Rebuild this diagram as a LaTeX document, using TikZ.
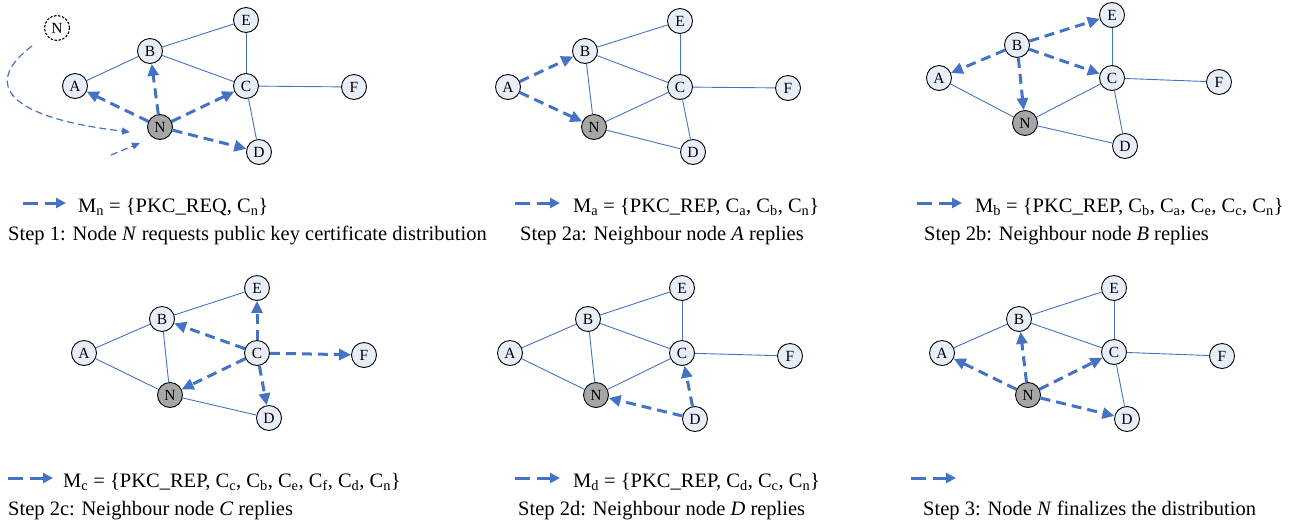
\documentclass[tikz,border=0pt]{standalone}
\usepackage{fontspec}
\setmainfont{Liberation Serif}
\usetikzlibrary{arrows.meta}
\definecolor{linkblue}{HTML}{4472C4}
\definecolor{nodefill}{HTML}{E8EEF8}
\definecolor{selfgray}{HTML}{A6A6A6}
\tikzset{
  peer/.style={circle, draw=black, line width=0.9pt, fill=nodefill, minimum size=25pt,
    inner sep=0pt, font=\fontsize{15.5}{15.5}\selectfont},
  self/.style={peer, fill=selfgray},
  ghost/.style={peer, fill=white, line width=1.1pt, dash pattern=on 2.5pt off 1.5pt},
  link/.style={linkblue, line width=0.9pt},
  msg/.style={linkblue, line width=3pt, dash pattern=on 10pt off 6pt,
    -{Triangle[length=12pt,width=11pt]}},
  joinpath/.style={linkblue, line width=1.2pt, dash pattern=on 7pt off 4pt,
    -{Triangle[length=8pt,width=7pt]}},
  keyarrow/.style={linkblue, line width=3pt, dash pattern=on 15pt off 7pt,
    -{Triangle[length=10pt,width=10pt]}},
  keytext/.style={anchor=base west, inner sep=0pt, font=\fontsize{20.5}{24}\selectfont},
  caption/.style={anchor=base west, inner sep=0pt, font=\fontsize{20.5}{24}\selectfont},
}
\begin{document}
\begin{tikzpicture}[x=1pt,y=-1pt]
\useasboundingbox (0,0) rectangle (1292,531);

% ---------- Step 1 ----------
\node[ghost] (g1) at (57,28) {N};
\node[peer] (a1) at (75,86) {A};
\node[peer] (b1) at (150,51) {B};
\node[peer] (e1) at (246,20) {E};
\node[peer] (c1) at (246,86) {C};
\node[peer] (f1) at (354,87) {F};
\node[self] (n1) at (160,127) {N};
\node[peer] (d1) at (259,152) {D};
\draw[link] (a1) -- (b1);
\draw[link] (b1) -- (e1);
\draw[link] (b1) -- (c1);
\draw[link] (e1) -- (c1);
\draw[link] (c1) -- (f1);
\draw[link] (c1) -- (d1);
\draw[msg] (n1) -- (a1);
\draw[msg] (n1) -- (b1);
\draw[msg] (n1) -- (c1);
\draw[msg] (n1) -- (d1);
\coordinate (j1s) at (32,46);
\coordinate (j1e) at (130,132);
\coordinate (j2s) at (111,155);
\coordinate (j2e) at (140,143);
\draw[joinpath] (j1s) .. controls (-20,85) and (10,118) .. (j1e);
\draw[joinpath] (j2s) -- (j2e);
\coordinate (k1s) at (23,203);
\coordinate (k1e) at (66,203);
\draw[keyarrow] (k1s) -- (k1e);
\node[keytext] (m1) at (78,212) {M\textsubscript{n} = \{PKC\_REQ, C\textsubscript{n}\}};
\node[caption] (s1) at (8,240) {Step 1: Node \textit{N} requests public key certificate distribution};

% ---------- Step 2a ----------
\node[peer] (a2) at (508,87) {A};
\node[peer] (b2) at (585,51) {B};
\node[peer] (e2) at (680,21) {E};
\node[peer] (c2) at (680,87) {C};
\node[peer] (f2) at (788,88) {F};
\node[self] (n2) at (594,127) {N};
\node[peer] (d2) at (693,152) {D};
\draw[link] (b2) -- (e2);
\draw[link] (b2) -- (c2);
\draw[link] (b2) -- (n2);
\draw[link] (e2) -- (c2);
\draw[link] (c2) -- (f2);
\draw[link] (c2) -- (n2);
\draw[link] (c2) -- (d2);
\draw[link] (n2) -- (d2);
\draw[msg] (a2) -- (b2);
\draw[msg] (a2) -- (n2);
\coordinate (k2s) at (515,203);
\coordinate (k2e) at (560,203);
\draw[keyarrow] (k2s) -- (k2e);
\node[keytext] (m2) at (573,212) {M\textsubscript{a} = \{PKC\_REP, C\textsubscript{a}, C\textsubscript{b}, C\textsubscript{n}\}};
\node[caption] (s2) at (520,240) {Step 2a: Neighbour node \textit{A} replies};

% ---------- Step 2b ----------
\node[peer] (a3) at (939,78) {A};
\node[peer] (b3) at (1017,45) {B};
\node[peer] (e3) at (1112,15) {E};
\node[peer] (c3) at (1112,78) {C};
\node[peer] (f3) at (1219,82) {F};
\node[self] (n3) at (1025,123) {N};
\node[peer] (d3) at (1125,146) {D};
\draw[link] (a3) -- (n3);
\draw[link] (n3) -- (c3);
\draw[link] (n3) -- (d3);
\draw[link] (e3) -- (c3);
\draw[link] (c3) -- (f3);
\draw[link] (c3) -- (d3);
\draw[msg] (b3) -- (a3);
\draw[msg] (b3) -- (e3);
\draw[msg] (b3) -- (c3);
\draw[msg] (b3) -- (n3);
\coordinate (k3s) at (917,203);
\coordinate (k3e) at (962,203);
\draw[keyarrow] (k3s) -- (k3e);
\node[keytext] (m3) at (975,212) {M\textsubscript{b} = \{PKC\_REP, C\textsubscript{b}, C\textsubscript{a}, C\textsubscript{e}, C\textsubscript{c}, C\textsubscript{n}\}};
\node[caption] (s3) at (924,240) {Step 2b: Neighbour node \textit{B} replies};

% ---------- Step 2c ----------
\node[peer] (a4) at (84,353) {A};
\node[peer] (b4) at (162,319) {B};
\node[peer] (e4) at (257,288) {E};
\node[peer] (c4) at (257,353) {C};
\node[peer] (f4) at (364,355) {F};
\node[self] (n4) at (170,395) {N};
\node[peer] (d4) at (269,418) {D};
\draw[link] (a4) -- (b4);
\draw[link] (a4) -- (n4);
\draw[link] (b4) -- (e4);
\draw[link] (b4) -- (n4);
\draw[link] (n4) -- (d4);
\draw[msg] (c4) -- (b4);
\draw[msg] (c4) -- (e4);
\draw[msg] (c4) -- (f4);
\draw[msg] (c4) -- (n4);
\draw[msg] (c4) -- (d4);
\coordinate (k4s) at (8,478);
\coordinate (k4e) at (53,478);
\draw[keyarrow] (k4s) -- (k4e);
\node[keytext] (m4) at (63,487) {M\textsubscript{c} = \{PKC\_REP, C\textsubscript{c}, C\textsubscript{b}, C\textsubscript{e}, C\textsubscript{f}, C\textsubscript{d}, C\textsubscript{n}\}};
\node[caption] (s4) at (8,515) {Step 2c: Neighbour node \textit{C} replies};

% ---------- Step 2d ----------
\node[peer] (a5) at (510,353) {A};
\node[peer] (b5) at (588,319) {B};
\node[peer] (e5) at (682,288) {E};
\node[peer] (c5) at (682,353) {C};
\node[peer] (f5) at (790,356) {F};
\node[self] (n5) at (596,395) {N};
\node[peer] (d5) at (695,419) {D};
\draw[link] (a5) -- (b5);
\draw[link] (a5) -- (n5);
\draw[link] (b5) -- (e5);
\draw[link] (b5) -- (c5);
\draw[link] (b5) -- (n5);
\draw[link] (e5) -- (c5);
\draw[link] (c5) -- (f5);
\draw[link] (c5) -- (n5);
\draw[msg] (d5) -- (n5);
\draw[msg] (d5) -- (c5);
\coordinate (k5s) at (515,478);
\coordinate (k5e) at (560,478);
\draw[keyarrow] (k5s) -- (k5e);
\node[keytext] (m5) at (573,487) {M\textsubscript{d} = \{PKC\_REP, C\textsubscript{d}, C\textsubscript{c}, C\textsubscript{n}\}};
\node[caption] (s5) at (518,515) {Step 2d: Neighbour node \textit{D} replies};

% ---------- Step 3 ----------
\node[peer] (a6) at (942,353) {A};
\node[peer] (b6) at (1019,319) {B};
\node[peer] (e6) at (1114,288) {E};
\node[peer] (c6) at (1114,352) {C};
\node[peer] (f6) at (1222,356) {F};
\node[self] (n6) at (1028,395) {N};
\node[peer] (d6) at (1127,419) {D};
\draw[link] (a6) -- (b6);
\draw[link] (b6) -- (e6);
\draw[link] (b6) -- (c6);
\draw[link] (e6) -- (c6);
\draw[link] (c6) -- (f6);
\draw[link] (c6) -- (d6);
\draw[msg] (n6) -- (a6);
\draw[msg] (n6) -- (b6);
\draw[msg] (n6) -- (c6);
\draw[msg] (n6) -- (d6);
\coordinate (k6s) at (911,478);
\coordinate (k6e) at (956,478);
\draw[keyarrow] (k6s) -- (k6e);
\node[caption] (s6) at (923,515) {Step 3: Node \textit{N} finalizes the distribution};
\end{tikzpicture}
\end{document}
